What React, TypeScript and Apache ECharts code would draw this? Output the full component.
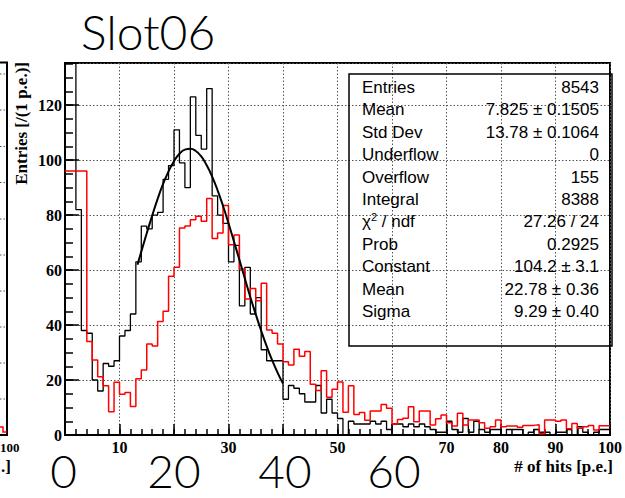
import React, { useEffect, useRef } from "react";
import * as echarts from "echarts";

// ---- data ----
// black histogram: counts per 1 p.e. bin, bins 0..99 (bins 0 and 1 are off scale)
const blackCounts = [
  4000, 1680, 82, 38, 37, 20, 16, 26, 25, 27,
  36, 38, 44, 63, 76, 75, 80, 81, 93, 98,
  111, 99, 90, 123, 109, 104, 126, 87, 80, 77,
  63, 69, 47, 61, 44, 50, 31, 27, 27, 27,
  13, 18, 17, 15, 12, 12, 18, 8, 13, 8,
  6, 0, 5, 4, 4, 4, 5, 4, 5, 2,
  4, 4, 3, 4, 3, 4, 3, 2, 1, 1,
  5, 2, 1, 6, 1, 5, 2, 1, 2, 2,
  0, 2, 2, 2, 0, 1, 2, 1, 1, 0,
  1, 1, 2, 0, 3, 1, 0, 1, 2, 2,
];
// red histogram, bins 0..99
const redCounts = [
  96, 96, 96, 96, 34, 27.3, 21.2, 17.9, 8.5, 19.2,
  14.8, 15.5, 10.4, 20.5, 23.6, 33.1, 32.4, 41.3, 45, 57.7,
  61, 75.3, 76, 78.3, 79.6, 77.7, 86, 71.5, 73.5, 83.5,
  69.2, 72.7, 60.4, 49.5, 53.3, 48.8, 55.2, 38.2, 37, 33.1,
  26.6, 25.5, 31.2, 28.6, 30.4, 18.5, 16.2, 23.4, 13.7, 16.6,
  19.3, 8.3, 17.9, 7.5, 8.2, 5.4, 8.7, 8.7, 11.1, 9.7,
  4, 5.6, 6.1, 10.3, 4.8, 8.7, 8.7, 3.6, 5.9, 7.3,
  4.5, 3.3, 7.9, 3.6, 5.5, 5.5, 4.5, 2.5, 3, 5.5,
  3, 3.3, 3.3, 2.8, 3.5, 3.5, 3.7, 0.5, 5.5, 5.5,
  5, 5.5, 2.3, 4.2, 2.5, 3, 3.5, 1.8, 3.4, 3.4,
];
// fitted gaussian curve
const fitX = [13.3, 14, 15, 16, 17, 18, 19, 20, 21, 22, 23, 24, 25, 26, 27, 28, 29, 30, 31, 32, 33, 34, 35, 36, 37, 38, 39, 40];
const fitY = [61.9, 66.7, 73.4, 79.8, 85.9, 91.3, 95.9, 99.6, 102.3, 103.8, 104.1, 103.3, 101.3, 98.1, 94.0, 89.0, 83.3, 77.0, 70.4, 63.7, 56.9, 50.2, 43.9, 37.9, 32.3, 27.2, 22.7, 18.7];

const xShownLabels = [10, 30, 50, 70, 80, 90, 100];
const statLabels = ["Entries", "Mean", "Std Dev", "Underflow", "Overflow", "Integral", "", "Prob", "Constant", "Mean", "Sigma"];
const statValues = ["8543", "7.825 ± 0.1505", "13.78 ± 0.1064", "0", "155", "8388", "27.26 / 24", "0.2925", "104.2 ± 3.1", "22.78 ± 0.36", "9.29 ± 0.40"];
const bigDigits = ["0", "20", "40", "60"];
const leftGridY = [74, 110, 146.5, 182.5, 219, 255, 291, 327, 363, 399];

const TITLE = "Slot06";
const X_TITLE = "# of hits [p.e.]";
const Y_TITLE = "Entries [/(1 p.e.)]";

function histData(counts: number[]) {
  const d: number[][] = counts.map((v, i) => [i, v]);
  d.push([counts.length, counts[counts.length - 1]]);
  return d;
}

const serif = "Liberation Serif";
const sans = "Liberation Sans";
const gothic = "Lato";

export default function App() {
  const ref = useRef<HTMLDivElement>(null);
  useEffect(() => {
    if (!ref.current) return;
    const chart = echarts.init(ref.current, null, { renderer: "svg" });
    const gridLine = { show: true, lineStyle: { color: "#555", type: [1.5, 2] as any, width: 1 } };
    const labelFont = { color: "#000", fontFamily: serif, fontWeight: "bold" as const, fontSize: 16 };

    const graphics: any[] = [];
    // title
    graphics.push({ type: "text", x: 81, y: 31, style: { text: TITLE, font: `300 48px ${gothic}`, fill: "#000", align: "left", verticalAlign: "middle" }, z: 10 });
    // stats box
    graphics.push({ type: "rect", shape: { x: 349, y: 74, width: 263, height: 272 }, style: { fill: "none", stroke: "#000", lineWidth: 1.5 }, z: 10 });
    const rowY = (k: number) => 87.5 + 22.4 * k;
    statValues.forEach((val, k) => {
      if (statLabels[k]) {
        graphics.push({ type: "text", x: 362, y: rowY(k), style: { text: statLabels[k], font: `17px ${sans}`, fill: "#000", align: "left", verticalAlign: "middle" }, z: 10 });
      } else {
        graphics.push({
          type: "text", x: 362, y: rowY(k),
          style: {
            text: "{a|χ}{b|2}{a| / ndf}", fill: "#000", align: "left", verticalAlign: "middle",
            rich: { a: { fontFamily: sans, fontSize: 17, lineHeight: 20 }, b: { fontFamily: sans, fontSize: 11, verticalAlign: "top", lineHeight: 12 } },
          }, z: 10,
        });
      }
      graphics.push({ type: "text", x: 599, y: rowY(k), style: { text: val, font: `17px ${sans}`, fill: "#000", align: "right", verticalAlign: "middle" }, z: 10 });
    });
    // axis titles
    graphics.push({ type: "text", x: 613, y: 466, style: { text: X_TITLE, font: `bold 17px ${serif}`, fill: "#000", align: "right", verticalAlign: "middle" }, z: 10 });
    graphics.push({ type: "text", x: 21, y: 62, rotation: Math.PI / 2, style: { text: Y_TITLE, font: `bold 17px ${serif}`, fill: "#000", align: "right", verticalAlign: "middle" }, z: 10 });
    // big digits overlay along the bottom
    const digitX = [63.5, 174, 285, 394];
    bigDigits.forEach((d, k) => {
      graphics.push({ type: "text", x: digitX[k], y: 470, style: { text: d, font: `300 46px ${gothic}`, fill: "#000", align: "center", verticalAlign: "middle" }, z: 10 });
    });
    // remnants of the neighbouring panel on the left edge
    graphics.push({ type: "polyline", shape: { points: [[0, 62.5], [7, 62.5], [7, 435], [0, 435]] }, style: { stroke: "#000", lineWidth: 2, fill: "none" }, z: 10 });
    leftGridY.forEach((y) => {
      graphics.push({ type: "line", shape: { x1: 0, y1: y, x2: 6, y2: y }, style: { stroke: "#555", lineWidth: 1, lineDash: [1.5, 2] }, z: 10 });
    });
    graphics.push({ type: "polyline", shape: { points: [[0, 427], [3, 427], [3, 432], [7, 432]] }, style: { stroke: "#f00", lineWidth: 1.5, fill: "none" }, z: 10 });
    graphics.push({ type: "text", x: 0, y: 447, style: { text: "100", font: `bold 13px ${serif}`, fill: "#000", align: "left", verticalAlign: "middle" }, z: 10 });
    graphics.push({ type: "text", x: 1, y: 466, style: { text: ".]", font: `bold 17px ${serif}`, fill: "#000", align: "left", verticalAlign: "middle" }, z: 10 });

    chart.setOption({
      animation: false,
      backgroundColor: "#fff",
      grid: { left: 65, right: 11, top: 63, bottom: 63, show: true, borderColor: "#000", borderWidth: 2, backgroundColor: "transparent" },
      xAxis: [
        {
          type: "value", min: 0, max: 100, interval: 10, position: "bottom",
          axisLine: { show: true, onZero: false, lineStyle: { color: "#000", width: 2 } },
          axisTick: { show: true, inside: true, length: 11, lineStyle: { color: "#000", width: 1.5 } },
          axisLabel: { ...labelFont, margin: 4, formatter: (v: number) => (xShownLabels.indexOf(v) >= 0 ? String(v) : "") },
          splitLine: gridLine,
        },
        {
          type: "value", min: 0, max: 100, interval: 2, position: "bottom",
          axisLine: { show: false, onZero: false },
          axisTick: { show: true, inside: true, length: 6, lineStyle: { color: "#000", width: 1.5 } },
          axisLabel: { show: false }, splitLine: { show: false },
        },
      ],
      yAxis: [
        {
          type: "value", min: 0, max: 135.3, interval: 20, position: "left",
          axisLine: { show: true, onZero: false, lineStyle: { color: "#000", width: 2 } },
          axisTick: { show: true, inside: true, length: 14, lineStyle: { color: "#000", width: 1.5 } },
          axisLabel: { ...labelFont, margin: 3, formatter: (v: number) => (v % 20 === 0 ? String(v) : "") },
          splitLine: gridLine,
        },
        {
          type: "value", min: 0, max: 135.3, interval: 5, position: "left",
          axisLine: { show: false, onZero: false },
          axisTick: { show: true, inside: true, length: 8, lineStyle: { color: "#000", width: 1.5 } },
          axisLabel: { show: false }, splitLine: { show: false },
        },
      ],
      series: [
        {
          type: "line", xAxisIndex: 0, yAxisIndex: 0, step: "end", symbol: "none", clip: true,
          data: histData(blackCounts), lineStyle: { color: "#000", width: 1.3 }, z: 3,
        },
        {
          type: "line", xAxisIndex: 0, yAxisIndex: 0, step: "end", symbol: "none", clip: true,
          data: histData(redCounts), lineStyle: { color: "#ff0000", width: 1.5 }, z: 4,
        },
        {
          type: "line", xAxisIndex: 0, yAxisIndex: 0, smooth: true, symbol: "none", clip: true,
          data: fitX.map((x, i) => [x, fitY[i]]), lineStyle: { color: "#000", width: 2 }, z: 5,
        },
      ],
      graphic: graphics,
    });
    return () => chart.dispose();
  }, []);
  return <div ref={ref} style={{ position: "fixed", left: 0, top: 0, width: 625, height: 498 }} />;
}
